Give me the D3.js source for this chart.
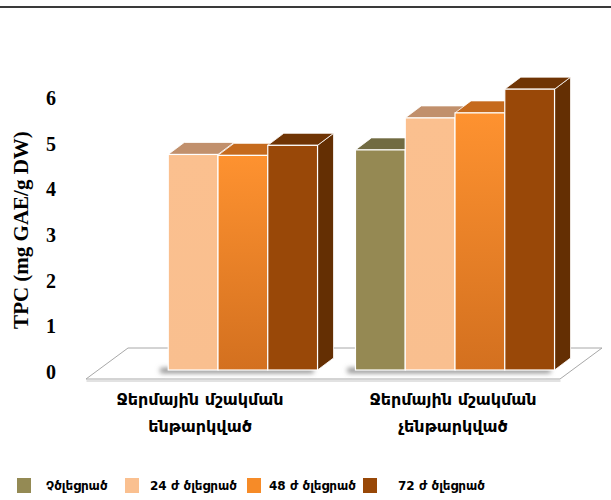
<!DOCTYPE html>
<html>
<head>
<meta charset="utf-8">
<script src="https://cdn.jsdelivr.net/npm/d3@7"></script>
<style>
  body { margin: 0; background: #fff; }
  svg { display: block; }
</style>
</head>
<body>
<div id="chart"></div>
<script>
// Data
const groups = ["Ջերմային մշակման ենթարկված", "Ջերմային մշակման չենթարկված"];
const groupLines = [["Ջերմային մշակման", "ենթարկված"], ["Ջերմային մշակման", "չենթարկված"]];
const series = ["Չծլեցրած", "24 ժ ծլեցրած", "48 ժ ծլեցրած", "72 ժ ծլեցրած"];
const treatedValues = [null, 4.72, 4.70, 4.92];
const untreatedValues = [4.82, 5.52, 5.63, 6.15];
const yTicks = [0, 1, 2, 3, 4, 5, 6];

const width = 611, height = 500;
const depthX = 16, depthY = 12;

// colours per series: front, top, side, legend
const frontTop = ["#958953", "#fbc08f", "#fe9230", "#994808"];
const frontBottom = ["#958953", "#f9bf8f", "#d3701f", "#994808"];
const topColors = ["#716b42", "#c1906c", "#c56a1d", "#6f3404"];
const sideColors = ["#5e5933", "#a87a58", "#a85514", "#642f03"];
const legendColors = ["#948a54", "#fac090", "#f68b28", "#984807"];

const svg = d3.select("#chart").append("svg")
    .attr("width", width)
    .attr("height", height);

const defs = svg.append("defs");
series.forEach((s, i) => {
    const g = defs.append("linearGradient")
        .attr("id", "grad" + i)
        .attr("x1", 0).attr("y1", 0).attr("x2", 0).attr("y2", 1);
    g.append("stop").attr("offset", "0%").attr("stop-color", frontTop[i]);
    g.append("stop").attr("offset", "100%").attr("stop-color", frontBottom[i]);
});
defs.append("filter").attr("id", "blur")
    .attr("x", "-20%").attr("y", "-200%").attr("width", "140%").attr("height", "500%")
    .append("feGaussianBlur").attr("stdDeviation", 2.5);

// top rule
svg.append("line")
    .attr("x1", 0).attr("x2", width)
    .attr("y1", 7).attr("y2", 7)
    .attr("stroke", "#3a3a3a")
    .attr("stroke-width", 2);

// scales
const x0 = d3.scaleBand()
    .domain(groups)
    .range([99.5, 573.5])
    .paddingInner(0.16)
    .paddingOuter(0.08);

const x1 = d3.scaleBand()
    .domain(series)
    .range([0, x0.bandwidth()]);

const y = d3.scaleLinear()
    .domain([0, 6])
    .range([370, 96]);

// floor
const [rx0, rx1] = x0.range();
const floorFront = y(0) + 9, floorBack = y(0) - 22;
svg.append("line")
    .attr("x1", rx0 - 13).attr("x2", rx1 - 13)
    .attr("y1", floorFront + 2).attr("y2", floorFront + 2)
    .attr("stroke", "#e2e2e2").attr("stroke-width", 2);
svg.append("polygon")
    .attr("points", [
        [rx0 - 13.5, floorFront],
        [rx0 + 28.5, floorBack],
        [rx1 + 28.5, floorBack],
        [rx1 - 13.5, floorFront]
    ].map(p => p.join(",")).join(" "))
    .attr("fill", "#fff")
    .attr("stroke", "#a8a8a8")
    .attr("stroke-width", 1);

// bars
const tableRows = groups.map((g, gi) => ({
    group: g,
    values: (gi === 0 ? treatedValues : untreatedValues).map((v, si) => ({ series: series[si], si, value: v }))
}));

const groupSel = svg.selectAll("g.group")
    .data(tableRows)
    .join("g")
    .attr("class", "group")
    .attr("transform", d => `translate(${x0(d.group)},0)`);

// soft shadow on the floor
groupSel.append("rect")
    .attr("x", d => {
        const first = d.values.find(v => v.value != null);
        return x1(first.series) - 8;
    })
    .attr("y", y(0) - 2)
    .attr("width", d => {
        const first = d.values.find(v => v.value != null);
        return x0.bandwidth() - x1(first.series) + 4;
    })
    .attr("height", 5)
    .attr("fill", "#8a8a8a")
    .attr("filter", "url(#blur)");

const bw = x1.bandwidth();
const bars = groupSel.selectAll("g.bar")
    .data(d => d.values.filter(v => v.value != null))
    .join("g")
    .attr("class", "bar");

bars.append("polygon")
    .attr("points", d => {
        const bx = x1(d.series), yt = y(d.value), yb = y(0);
        return [[bx + bw, yt], [bx + bw + depthX, yt - depthY], [bx + bw + depthX, yb - depthY], [bx + bw, yb]]
            .map(p => p.join(",")).join(" ");
    })
    .attr("fill", d => sideColors[d.si])
    .attr("stroke", "#fff").attr("stroke-width", 0.8).attr("stroke-linejoin", "round");

bars.append("polygon")
    .attr("points", d => {
        const bx = x1(d.series), yt = y(d.value);
        return [[bx, yt], [bx + depthX, yt - depthY], [bx + bw + depthX, yt - depthY], [bx + bw, yt]]
            .map(p => p.join(",")).join(" ");
    })
    .attr("fill", d => topColors[d.si])
    .attr("stroke", "#fff").attr("stroke-width", 0.8).attr("stroke-linejoin", "round");

bars.append("rect")
    .attr("x", d => x1(d.series))
    .attr("y", d => y(d.value))
    .attr("width", bw)
    .attr("height", d => y(0) - y(d.value))
    .attr("fill", d => `url(#grad${d.si})`)
    .attr("stroke", "#fff").attr("stroke-width", 1.2);

// y tick labels
svg.append("g")
    .selectAll("text")
    .data(yTicks)
    .join("text")
    .attr("x", 51)
    .attr("y", d => y(d) + 2)
    .attr("text-anchor", "middle")
    .attr("dominant-baseline", "central")
    .style("font-family", "'Liberation Serif', 'Times New Roman', serif")
    .style("font-weight", "bold")
    .style("font-size", "20px")
    .text(d => d);

// y title
svg.append("text")
    .attr("transform", `translate(21,${y(3) - 3}) rotate(-90)`)
    .attr("text-anchor", "middle")
    .attr("dominant-baseline", "central")
    .style("font-family", "'Liberation Serif', 'Times New Roman', serif")
    .style("font-weight", "bold")
    .style("font-size", "21px")
    .text("TPC (mg GAE/g DW)");

// category labels
const labelOffset = [-18, -2];
svg.append("g")
    .selectAll("text")
    .data(groups)
    .join("text")
    .attr("text-anchor", "middle")
    .style("font-family", "'DejaVu Sans', sans-serif")
    .style("font-weight", "bold")
    .style("font-size", "16px")
    .attr("transform", (d, i) => `translate(${x0(d) + x0.bandwidth() / 2 + labelOffset[i]},0)`)
    .selectAll("tspan")
    .data((d, i) => groupLines[i])
    .join("tspan")
    .attr("x", 0)
    .attr("y", (d, j) => 405 + j * 27)
    .text(d => d);

// legend
const legendX = [17, 125, 247, 363];
const legendTextGap = [29, 25, 22, 35];
const legend = svg.append("g")
    .selectAll("g")
    .data(series)
    .join("g")
    .attr("transform", (d, i) => `translate(${legendX[i]},478)`);

legend.append("rect")
    .attr("width", 14).attr("height", 15)
    .attr("fill", (d, i) => legendColors[i]);

legend.append("text")
    .attr("x", (d, i) => legendTextGap[i])
    .attr("y", 8)
    .attr("dominant-baseline", "central")
    .style("font-family", "'DejaVu Sans', sans-serif")
    .style("font-weight", "bold")
    .style("font-size", "12px")
    .text(d => d);
</script>
</body>
</html>
